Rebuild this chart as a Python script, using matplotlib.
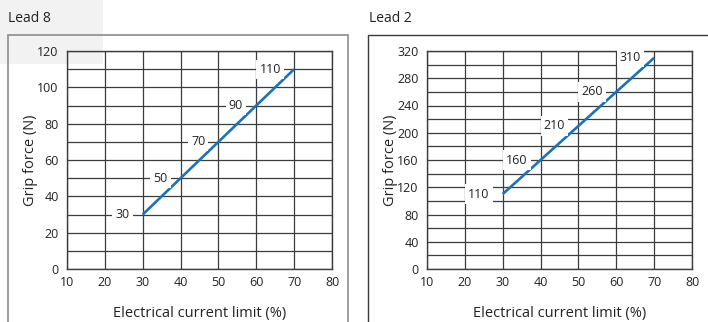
import matplotlib
matplotlib.use('Agg')
from matplotlib import pyplot as plt
from matplotlib.patches import Rectangle

plt.rcParams['font.family'] = ['Open Sans', 'DejaVu Sans']

# data
current = [30, 40, 50, 60, 70]
force_lead8 = [30, 50, 70, 90, 110]
force_lead2 = [110, 160, 210, 260, 310]
x_ticks = [10, 20, 30, 40, 50, 60, 70, 80]
y_ticks_lead8 = [0, 20, 40, 60, 80, 100, 120]
y_minor_lead8 = [10, 30, 50, 70, 90, 110]
y_ticks_lead2 = [0, 40, 80, 120, 160, 200, 240, 280, 320]
y_minor_lead2 = [20, 60, 100, 140, 180, 220, 260, 300]

W, H = 708, 322
fig = plt.figure(figsize=(W / 100, H / 100), dpi=100)

# light grey patch in the top-left corner
fig.add_artist(Rectangle((0, 1 - 64 / H), 103 / W, 64 / H, transform=fig.transFigure,
                         facecolor='#f2f2f2', edgecolor='none', zorder=0))
# panel frames
fig.add_artist(Rectangle((8 / W, -0.05), 340 / W, 1.05 - 35 / H, transform=fig.transFigure,
                         facecolor='none', edgecolor='#8c8c8c', lw=1.2, zorder=1))
fig.add_artist(Rectangle((368 / W, -0.05), 0.6, 1.05 - 35 / H, transform=fig.transFigure,
                         facecolor='none', edgecolor='#3a3a3a', lw=1.0, zorder=1))

fig.text(8 / W, 1 - 18 / H, 'Lead 8', fontsize=10, color='#222222', va='center', ha='left')
fig.text(369 / W, 1 - 18 / H, 'Lead 2', fontsize=10, color='#222222', va='center', ha='left')

panels = [
    (67, force_lead8, y_ticks_lead8, y_minor_lead8, 120),
    (427, force_lead2, y_ticks_lead2, y_minor_lead2, 320),
]

for left_px, force, yt, ym, ymax in panels:
    ax = fig.add_axes([left_px / W, 53 / H, 265 / W, 218 / H])
    ax.set_facecolor('none')
    ax.set_xlim(10, 80)
    ax.set_ylim(0, ymax)
    ax.set_xticks(x_ticks)
    ax.set_yticks(yt)
    ax.set_yticks(ym, minor=True)
    ax.grid(True, which='both', color='#3c3c3c', lw=0.9)
    ax.set_axisbelow(True)
    ax.tick_params(which='both', length=0, labelsize=9, colors='#222222')
    ax.tick_params(axis='y', pad=6)
    ax.tick_params(axis='x', pad=5)
    for s in ax.spines.values():
        s.set_color('#3c3c3c')
        s.set_linewidth(1.0)
    ax.plot(current, force, color='#1a72bb', lw=1.9, solid_capstyle='butt', zorder=3)
    for xv, yv in zip(current, force):
        ax.annotate(str(yv), (xv, yv), xytext=(-9.5, 0), textcoords='offset points',
                    ha='right', va='center', fontsize=9, color='#222222', zorder=4,
                    bbox=dict(boxstyle='square,pad=0.25', facecolor='white', edgecolor='none'))
    ax.set_xlabel('Electrical current limit (%)', fontsize=10.5, color='#222222', labelpad=12)
    ax.set_ylabel('Grip force (N)', fontsize=10.5, color='#222222', labelpad=-0.5)

fig.savefig('out.png', dpi=100)
